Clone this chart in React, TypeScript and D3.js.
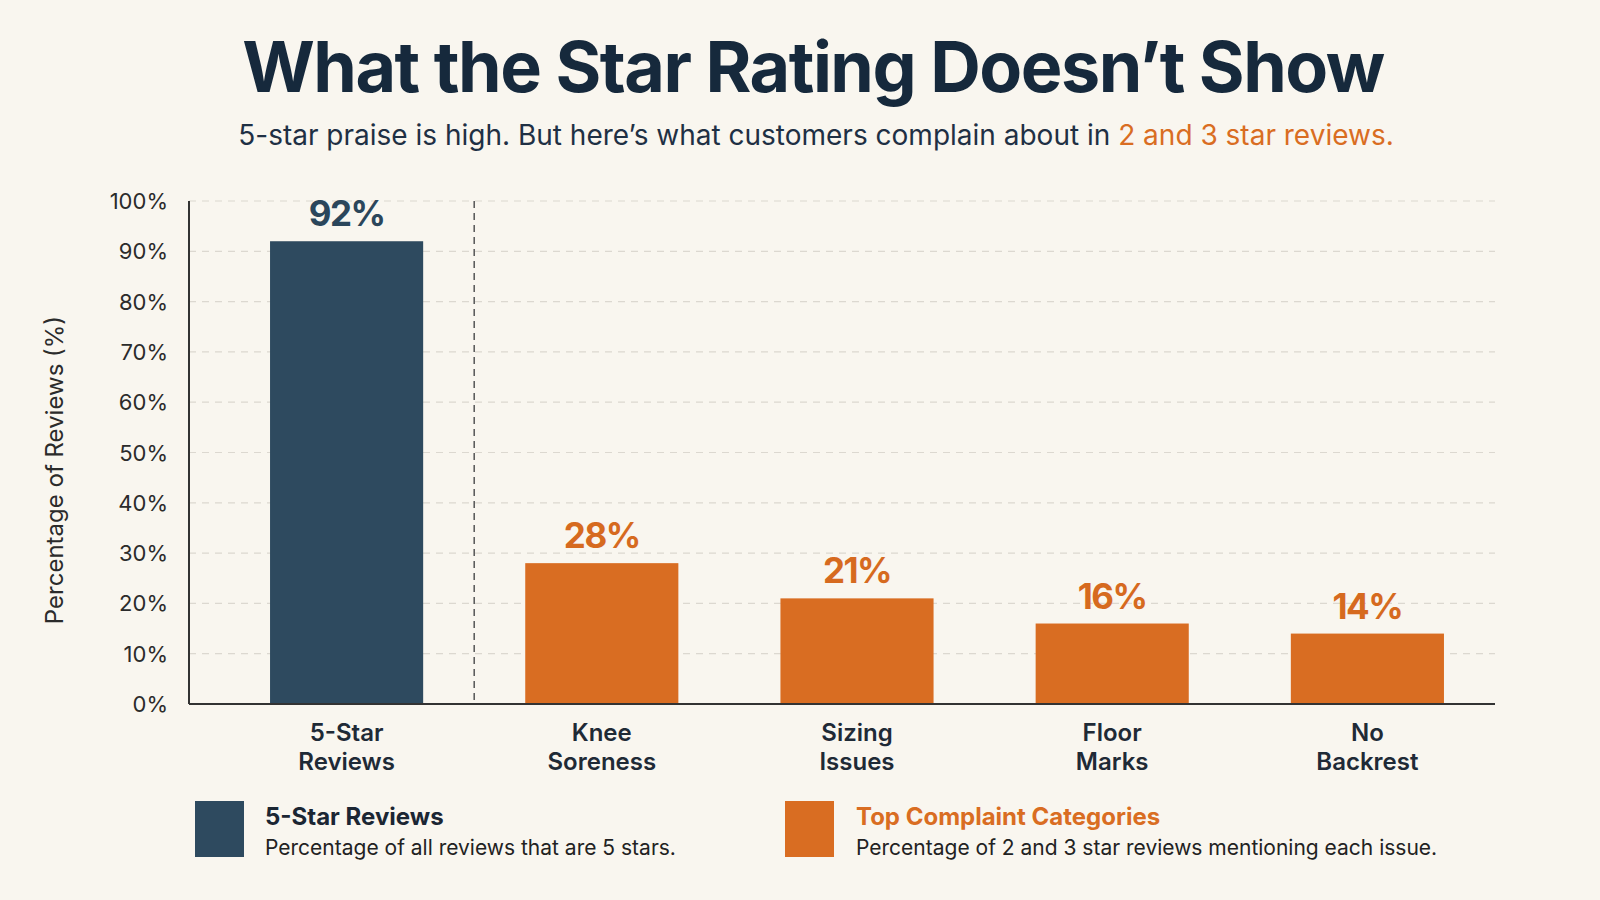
import React from "react";
import * as d3 from "d3";

// chart data
const categories = ["5-Star Reviews", "Knee Soreness", "Sizing Issues", "Floor Marks", "No Backrest"];
const categoryLines = [
  ["5-Star", "Reviews"],
  ["Knee", "Soreness"],
  ["Sizing", "Issues"],
  ["Floor", "Marks"],
  ["No", "Backrest"],
];
const values = [92, 28, 21, 16, 14];
const groups = ["praise", "complaint", "complaint", "complaint", "complaint"];
const yTicks = [0, 10, 20, 30, 40, 50, 60, 70, 80, 90, 100];

const NAVY = "#2e4a5f";
const ORANGE = "#d96d22";
const INK = "#16293c";
const BG = "#f9f6ef";
const FONT = "Inter, 'Noto Sans', sans-serif";

const W = 1600;
const H = 900;
const margin = { top: 201, right: 105, bottom: 196, left: 189 };

export default function App() {
  const innerW = W - margin.left - margin.right;
  const innerH = H - margin.top - margin.bottom;

  const y = d3.scaleLinear().domain([0, 100]).range([innerH, 0]);
  const x = d3
    .scaleBand<string>()
    .domain(categories)
    .range([30, innerW])
    .paddingInner(0.4)
    .paddingOuter(0.2);

  const color = (g: string) => (g === "praise" ? NAVY : ORANGE);
  const labelColor = (g: string) => (g === "praise" ? "#2b465b" : "#d66a1f");

  // dashed separator halfway between praise bar and first complaint bar
  const sepX = (x(categories[0])! + x.bandwidth() + x(categories[1])!) / 2;

  return (
    <div style={{ position: "fixed", left: 0, top: 0, width: W, height: H }}>
      <svg width={W} height={H} style={{ display: "block", background: BG }} fontFamily={FONT}>
        <rect width={W} height={H} fill={BG} />

        {/* Title */}
        <text
          x={813}
          y={92}
          textAnchor="middle"
          fontSize={70}
          fontWeight={700}
          fill={INK}
          letterSpacing={-1.5}
        >
          What the Star Rating Doesn’t Show
        </text>
        <text x={816} y={145} textAnchor="middle" fontSize={28} fill="#1f3044">
          5-star praise is high. But here’s what customers complain about in{" "}
          <tspan fill={ORANGE}>2 and 3 star reviews.</tspan>
        </text>

        <g transform={`translate(${margin.left},${margin.top})`}>
          {/* grid */}
          {yTicks
            .filter((t) => t > 0)
            .map((t) => (
              <line
                key={`g${t}`}
                x1={0}
                x2={innerW}
                y1={y(t)}
                y2={y(t)}
                stroke="#dcd8d0"
                strokeWidth={1.2}
                strokeDasharray="7,6"
              />
            ))}

          {/* separator */}
          <line
            x1={sepX}
            x2={sepX}
            y1={0}
            y2={innerH}
            stroke="#555"
            strokeWidth={1.5}
            strokeDasharray="7,5"
          />

          {/* bars */}
          {categories.map((c, i) => (
            <rect
              key={c}
              x={x(c)}
              y={y(values[i])}
              width={x.bandwidth()}
              height={innerH - y(values[i])}
              fill={color(groups[i])}
            />
          ))}

          {/* value labels */}
          {categories.map((c, i) => (
            <text
              key={`v${c}`}
              x={x(c)! + x.bandwidth() / 2}
              y={y(values[i]) - 15}
              textAnchor="middle"
              fontSize={35}
              fontWeight={700}
              letterSpacing={-1.5}
              fill={labelColor(groups[i])}
            >
              {values[i]}%
            </text>
          ))}

          {/* axes */}
          <line x1={0} x2={0} y1={0} y2={innerH} stroke="#333" strokeWidth={2} />
          <line x1={0} x2={innerW} y1={innerH} y2={innerH} stroke="#333" strokeWidth={2} />

          {yTicks.map((t) => (
            <text
              key={`t${t}`}
              x={-21}
              y={y(t) + 8}
              textAnchor="end"
              fontSize={22}
              fill="#2b2b2b"
            >
              {t}%
            </text>
          ))}

          {/* category labels */}
          {categories.map((c, i) => (
            <text
              key={`c${c}`}
              x={x(c)! + x.bandwidth() / 2}
              textAnchor="middle"
              fontSize={24}
              fontWeight={600}
              fill="#1f2a36"
            >
              {categoryLines[i].map((line, j) => (
                <tspan key={j} x={x(c)! + x.bandwidth() / 2} y={innerH + 37 + j * 29}>
                  {line}
                </tspan>
              ))}
            </text>
          ))}
        </g>

        {/* y axis title */}
        <text
          transform="translate(63,470) rotate(-90)"
          textAnchor="middle"
          fontSize={24}
          fill="#2b2b2b"
        >
          Percentage of Reviews (%)
        </text>

        {/* legend */}
        <g transform="translate(195,801)">
          <rect width={49} height={56} fill={NAVY} />
          <text x={70} y={24} fontSize={24} fontWeight={700} fill="#1b2633">
            5-Star Reviews
          </text>
          <text x={70} y={54} fontSize={21} fill="#222">
            Percentage of all reviews that are 5 stars.
          </text>
        </g>
        <g transform="translate(785,801)">
          <rect width={49} height={56} fill={ORANGE} />
          <text x={71} y={24} fontSize={24} fontWeight={700} fill={ORANGE}>
            Top Complaint Categories
          </text>
          <text x={71} y={54} fontSize={21} fill="#222">
            Percentage of 2 and 3 star reviews mentioning each issue.
          </text>
        </g>
      </svg>
    </div>
  );
}
